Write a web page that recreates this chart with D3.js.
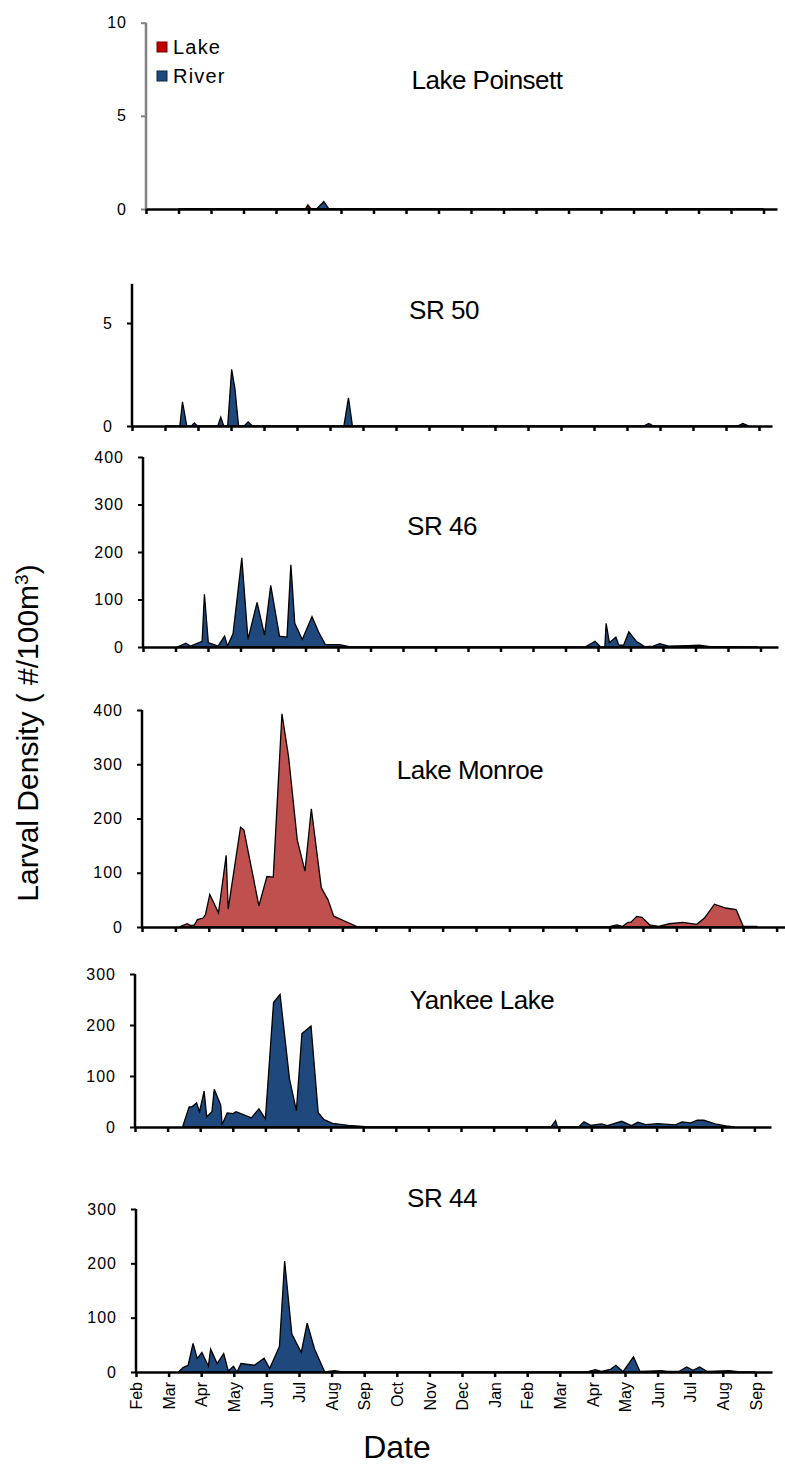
<!DOCTYPE html>
<html><head><meta charset="utf-8">
<script src="https://cdn.jsdelivr.net/npm/d3@7"></script>
<style>
html,body{margin:0;padding:0;background:#fff;}
svg{display:block;font-family:"Liberation Sans",Arial,sans-serif;}
</style></head>
<body>
<svg id="chart" width="785" height="1466"></svg>
<script>
// ---- data (x = months since Feb 1 of year 1, y = larvae per 100 m3) ----
const monthLabels = ["Feb","Mar","Apr","May","Jun","Jul","Aug","Sep","Oct","Nov","Dec","Jan","Feb","Mar","Apr","May","Jun","Jul","Aug","Sep"];
const seriesNames = ["Lake","River"];

const poinsettLake = [[1.0,0],[4.9,0],[4.98,0.22],[5.08,0],[19.0,0]];
const poinsettRiver = [[1.0,0],[5.25,0],[5.47,0.4],[5.63,0],[19.0,0]];

const sr50River = [[1.0,0],[1.45,0],[1.53,1.17],[1.66,0],[1.8,0],[1.89,0.15],[1.98,0],[2.6,0],[2.69,0.42],[2.78,0],[2.9,0],[3.02,2.75],[3.12,1.8],[3.23,0],[3.4,0],[3.52,0.2],[3.65,0],[6.42,0],[6.56,1.37],[6.68,0],[15.5,0],[15.66,0.12],[15.8,0],[18.35,0],[18.51,0.12],[18.7,0]];

const sr46River = [[1.05,0],[1.32,8],[1.46,2],[1.82,12],[1.89,111],[2.01,9],[2.31,2],[2.51,23],[2.6,2],[2.77,28],[3.04,188],[3.23,16],[3.51,94],[3.74,25],[3.93,130],[4.2,23],[4.43,21],[4.55,173],[4.67,50],[4.9,16],[5.2,64],[5.4,32],[5.61,5],[6.05,5],[6.38,0],[13.6,0],[13.91,12],[14.08,0],[14.21,0],[14.25,50],[14.35,9],[14.55,21],[14.64,4],[14.79,4],[14.95,32],[15.18,12],[15.43,1],[15.7,2],[15.9,7],[16.17,2],[16.77,3],[17.11,4],[17.45,1],[17.99,1],[18.93,0]];

const monroeLake = [[1.11,0],[1.35,6],[1.47,2.4],[1.57,4],[1.66,13.5],[1.83,16.5],[1.9,22.6],[2.03,60],[2.29,26],[2.52,132],[2.58,33],[2.95,184],[3.05,179],[3.5,39],[3.74,93],[3.93,92],[4.19,393],[4.39,313],[4.65,160],[4.88,103],[5.07,218],[5.37,72],[5.57,50],[5.74,20],[6.03,12],[6.42,1],[6.62,0],[13.96,0],[14.22,4],[14.38,1],[14.55,8.6],[14.64,9],[14.81,19.6],[14.97,17.7],[15.2,4],[15.47,1.2],[15.79,6],[16.19,8.6],[16.61,5],[16.84,16.5],[17.14,42],[17.47,35],[17.79,32],[18.0,1.2],[18.41,1]];

const yankeeRiver = [[1.46,0],[1.66,39.5],[1.75,39.5],[1.89,47.5],[1.98,30],[2.12,70.5],[2.2,20],[2.36,30],[2.43,74],[2.63,43],[2.67,4.6],[2.83,27.7],[3.01,26.4],[3.1,30],[3.57,17.8],[3.8,35.6],[4.0,15.8],[4.25,244],[4.45,260],[4.74,94],[4.95,32],[5.12,183],[5.4,198],[5.62,28],[5.8,14.5],[6.06,7.3],[6.54,3.3],[7.08,0.7],[7.75,0],[12.76,0],[12.9,12.5],[12.96,0],[13.61,0],[13.77,10],[13.98,3.3],[14.31,6],[14.49,2.6],[14.93,11.2],[15.23,2.6],[15.43,9.2],[15.66,4.6],[16.04,6.6],[16.58,4],[16.78,10],[17.05,8],[17.25,13.2],[17.45,13.2],[17.79,6],[18.13,2],[18.4,0]];

const sr44River = [[1.31,0],[1.44,8],[1.6,12.4],[1.75,52.6],[1.88,24.7],[2.02,35.9],[2.22,11],[2.29,42],[2.49,15.5],[2.69,34],[2.83,1.9],[2.99,10.5],[3.1,0],[3.22,15.5],[3.63,12.4],[3.93,25.4],[4.1,6.2],[4.4,47],[4.56,204],[4.78,70],[5.07,36],[5.25,90],[5.48,42],[5.79,0],[6.08,2.5],[6.35,0],[6.62,0],[13.69,0],[13.89,1],[14.09,4.3],[14.27,1],[14.56,5],[14.72,12.4],[14.94,0.6],[15.26,27.8],[15.46,1],[16.11,2.5],[16.31,1],[16.65,1],[16.89,9.3],[17.09,3],[17.29,9.3],[17.52,1],[18.2,2.5],[18.47,0.5],[19.0,0]];

const poinsettTicks = [0,5,10];
const sr50Ticks = [0,5];
const sr46Ticks = [0,100,200,300,400];
const monroeTicks = [0,100,200,300,400];
const yankeeTicks = [0,100,200,300];
const sr44Ticks = [0,100,200,300];

// ---- layout ----
const colors = {Lake:"#C0504D", River:"#1F497D"};
const panels = [
  {title:"Lake Poinsett", series:[{name:"Lake",data:poinsettLake,fill:"#C00000"},{name:"River",data:poinsettRiver,fill:colors.River}], ticks:poinsettTicks, yMax:10, left:146, step:32.5, end:777, y0:209, yTop:22.7, tx:487, ty:89, grey:true},
  {title:"SR 50", series:[{name:"River",data:sr50River,fill:colors.River}], ticks:sr50Ticks, yMax:6.9, left:132, step:33.0, end:772, y0:426, yTop:426-6.9*20.6, tx:444, ty:319},
  {title:"SR 46", series:[{name:"River",data:sr46River,fill:colors.River}], ticks:sr46Ticks, yMax:400, left:143, step:32.5, end:778, y0:647, yTop:457, tx:442, ty:535},
  {title:"Lake Monroe", series:[{name:"Lake",data:monroeLake,fill:colors.Lake}], ticks:monroeTicks, yMax:400, left:142, step:33.4, end:785, y0:927, yTop:710, tx:470, ty:779},
  {title:"Yankee Lake", series:[{name:"River",data:yankeeRiver,fill:colors.River}], ticks:yankeeTicks, yMax:300, left:135, step:32.6, end:771, y0:1127, yTop:974, tx:482, ty:1009},
  {title:"SR 44", series:[{name:"River",data:sr44River,fill:colors.River}], ticks:sr44Ticks, yMax:300, left:136, step:32.6, end:772, y0:1372, yTop:1209, tx:442, ty:1207, labels:true}
];

const svg = d3.select("#chart");

panels.forEach(p => {
  const x = d3.scaleLinear().domain([0,(p.end-p.left)/p.step]).range([p.left,p.end]);
  const y = d3.scaleLinear().domain([0,p.yMax]).range([p.y0,p.yTop]);
  const g = svg.append("g");

  const area = d3.area().x(d=>x(d[0])).y0(y(0)).y1(d=>y(d[1]));
  p.series.forEach(s => {
    g.append("path").datum(s.data).attr("d",area)
      .attr("fill",s.fill).attr("stroke","#000").attr("stroke-width",1.3).attr("stroke-linejoin","miter");
  });

  // y axis
  const ya = g.append("g").attr("transform",`translate(${p.left},0)`)
    .call(d3.axisLeft(y).tickValues(p.ticks).tickSize(5).tickSizeOuter(0).tickPadding(14).tickFormat(d3.format("d")));
  ya.select(".domain").attr("stroke",p.grey?"#808080":"#000").attr("stroke-width",2.5)
    .attr("d",`M0,${p.y0}V${p.yTop}`);
  ya.selectAll(".tick line").attr("stroke",p.grey?"#808080":"#000").attr("stroke-width",2);
  ya.selectAll(".tick text").attr("font-size",16).attr("letter-spacing",1).attr("fill","#000")
    .attr("font-family","'Liberation Sans',Arial,sans-serif");

  // x axis
  const xa = g.append("g").attr("transform",`translate(0,${p.y0})`)
    .call(d3.axisBottom(x).tickValues(d3.range(monthLabels.length)).tickSize(5).tickSizeOuter(0).tickPadding(6)
      .tickFormat(p.labels ? (i=>monthLabels[i]) : ""));
  xa.select(".domain").attr("stroke","#000").attr("stroke-width",2.5);
  xa.selectAll(".tick line").attr("stroke","#000").attr("stroke-width",2.5);
  if (p.labels) {
    xa.selectAll(".tick text").attr("font-size",16).attr("fill","#000")
      .attr("font-family","'Liberation Sans',Arial,sans-serif")
      .attr("transform","rotate(-90)").attr("text-anchor","end")
      .attr("x",-10).attr("y",0).attr("dy","0.35em");
  } else {
    xa.selectAll(".tick text").remove();
  }

  g.append("text").attr("x",p.tx).attr("y",p.ty).attr("text-anchor","middle")
    .attr("font-size",26).attr("letter-spacing","-0.5").text(p.title);
});

// legend
const legend = svg.append("g");
seriesNames.forEach((n,i) => {
  const yy = 47 + i*29;
  legend.append("rect").attr("x",157).attr("y",yy-5).attr("width",10).attr("height",10)
    .attr("fill", n==="Lake" ? "#C00000" : colors.River).attr("stroke", n==="Lake" ? "#700000" : "#0c2540").attr("stroke-width",1);
  legend.append("text").attr("x",173).attr("y",yy+7).attr("font-size",20).attr("letter-spacing",1.2).text(n);
});

// axis titles
svg.append("text").attr("x",397).attr("y",1458).attr("text-anchor","middle").attr("font-size",32).text("Date");
const yl = svg.append("text").attr("transform","translate(38,733) rotate(-90)").attr("text-anchor","middle").attr("font-size",30);
yl.append("tspan").text("Larval Density ( #/100m");
yl.append("tspan").attr("baseline-shift","super").attr("font-size",19).text("3");
yl.append("tspan").text(")");
</script>
</body></html>
